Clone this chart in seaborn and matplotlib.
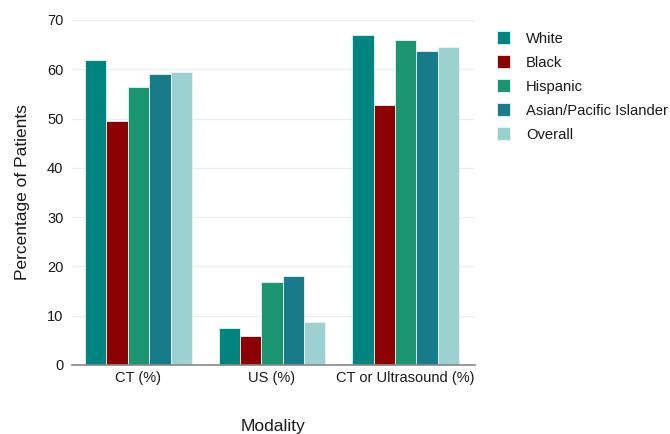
import numpy as np
import pandas as pd
import matplotlib.pyplot as plt
import seaborn as sns

modalities = ['CT (%)', 'US (%)', 'CT or Ultrasound (%)']
groups = ['White', 'Black', 'Hispanic', 'Asian/Pacific Islander', 'Overall']
white = [61.9, 7.6, 66.9]
black = [49.5, 5.8, 52.7]
hispanic = [56.3, 16.8, 65.9]
asian = [59.1, 18.1, 63.8]
overall = [59.4, 8.7, 64.6]
colors = ['#00847f', '#8b0000', '#1b9472', '#177b8a', '#9dd0d0']

vals = [white, black, hispanic, asian, overall]
d = pd.DataFrame({
    'Modality': np.repeat([modalities], len(groups), axis=0).ravel(),
    'Group': np.repeat(groups, len(modalities)),
    'pct': np.concatenate(vals),
})

sns.set_style('white')
plt.rcParams['font.family'] = ['Arial', 'Liberation Sans', 'DejaVu Sans']
plt.rcParams['text.color'] = '#1a1a1a'
plt.rcParams['axes.labelcolor'] = '#1a1a1a'
plt.rcParams['xtick.labelcolor'] = '#1a1a1a'
plt.rcParams['ytick.labelcolor'] = '#1a1a1a'

fig = plt.figure(figsize=(6.7, 4.34), dpi=100)
ax = fig.add_axes([0.107, 0.159, 0.602, 0.795])
sns.barplot(data=d, x='Modality', y='pct', hue='Group', hue_order=groups,
            order=modalities, palette=colors, saturation=1, width=0.8, ax=ax,
            edgecolor='#e8f4f4', linewidth=0.6, errorbar=None)

ax.set_ylim(0, 70)
ax.set_xlim(-0.5, 2.52)
ax.set_yticks(range(0, 71, 10))
ax.yaxis.grid(True, color='#ececec', linewidth=0.9)
ax.set_axisbelow(True)
for s in ['top', 'right', 'left']:
    ax.spines[s].set_visible(False)
ax.spines['bottom'].set_color('#888888')
ax.spines['bottom'].set_linewidth(1.2)
ax.tick_params(axis='y', length=5, color='#888888', labelsize=10.5, pad=1)
ax.tick_params(axis='x', length=0, labelsize=10.5, pad=4)
ax.set_ylabel('Percentage of Patients', fontsize=12.5, labelpad=12)
ax.set_xlabel('Modality', fontsize=12.5, labelpad=25)

leg = ax.legend(loc='upper left', bbox_to_anchor=(1.04, 0.985), frameon=False,
                fontsize=10.6, handlelength=0.9, handleheight=1.0,
                labelspacing=0.64, handletextpad=1.05, borderaxespad=0)

fig.savefig('out.png', dpi=100)
